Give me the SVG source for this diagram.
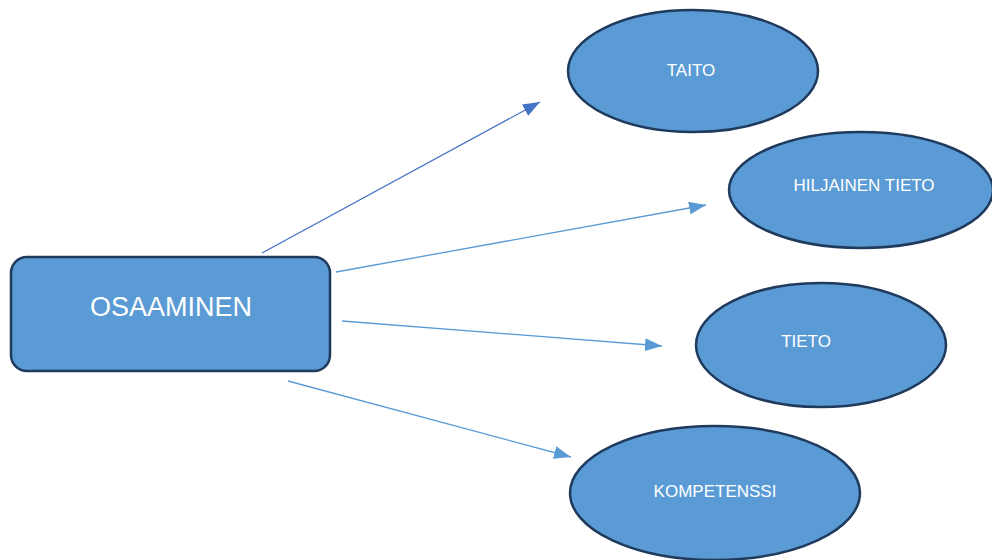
<svg xmlns="http://www.w3.org/2000/svg" width="992" height="560" viewBox="0 0 992 560">
<defs>
<style>
.node{fill:#5B9BD5;stroke:#1F3A5C;stroke-width:2.5}
.lbl{fill:#FFFFFF;font-family:"Liberation Sans",Arial,sans-serif;font-size:17px;text-anchor:middle}
.big{font-size:27px}
.conn{stroke:#5B9BD5;stroke-width:1.3;fill:none;marker-end:url(#ah)}
.conn.dark{stroke:#4472C4;marker-end:url(#ahd)}
</style>
<marker id="ah" viewBox="0 0 17 13" refX="17" refY="6.5" markerWidth="17" markerHeight="13" markerUnits="userSpaceOnUse" orient="auto"><path d="M0,0 L17,6.5 L0,13 Z" fill="#5B9BD5"/></marker>
<marker id="ahd" viewBox="0 0 17 13" refX="17" refY="6.5" markerWidth="17" markerHeight="13" markerUnits="userSpaceOnUse" orient="auto"><path d="M0,0 L17,6.5 L0,13 Z" fill="#4472C4"/></marker>
</defs>
<rect width="992" height="560" fill="#FFFFFF"/>
<g id="connectors">
<path class="conn dark" d="M262,253 L540,102"/>
<path class="conn" d="M336,272 L706,205"/>
<path class="conn" d="M342,321 L662,346"/>
<path class="conn" d="M288,381 L571,457"/>
</g>
<g id="osaaminen">
<rect class="node" x="11" y="257" width="319" height="114" rx="16"/>
<text class="lbl big" x="171" y="316">OSAAMINEN</text>
</g>
<g id="taito">
<ellipse class="node" cx="693" cy="71" rx="125" ry="61"/>
<text class="lbl" x="691" y="76">TAITO</text>
</g>
<g id="hiljainen-tieto">
<ellipse class="node" cx="861" cy="190" rx="132" ry="58"/>
<text class="lbl" x="864" y="191">HILJAINEN TIETO</text>
</g>
<g id="tieto">
<ellipse class="node" cx="821" cy="345" rx="125" ry="62"/>
<text class="lbl" x="806" y="347">TIETO</text>
</g>
<g id="kompetenssi">
<ellipse class="node" cx="715" cy="493" rx="145" ry="67"/>
<text class="lbl" x="715" y="497">KOMPETENSSI</text>
</g>
</svg>
